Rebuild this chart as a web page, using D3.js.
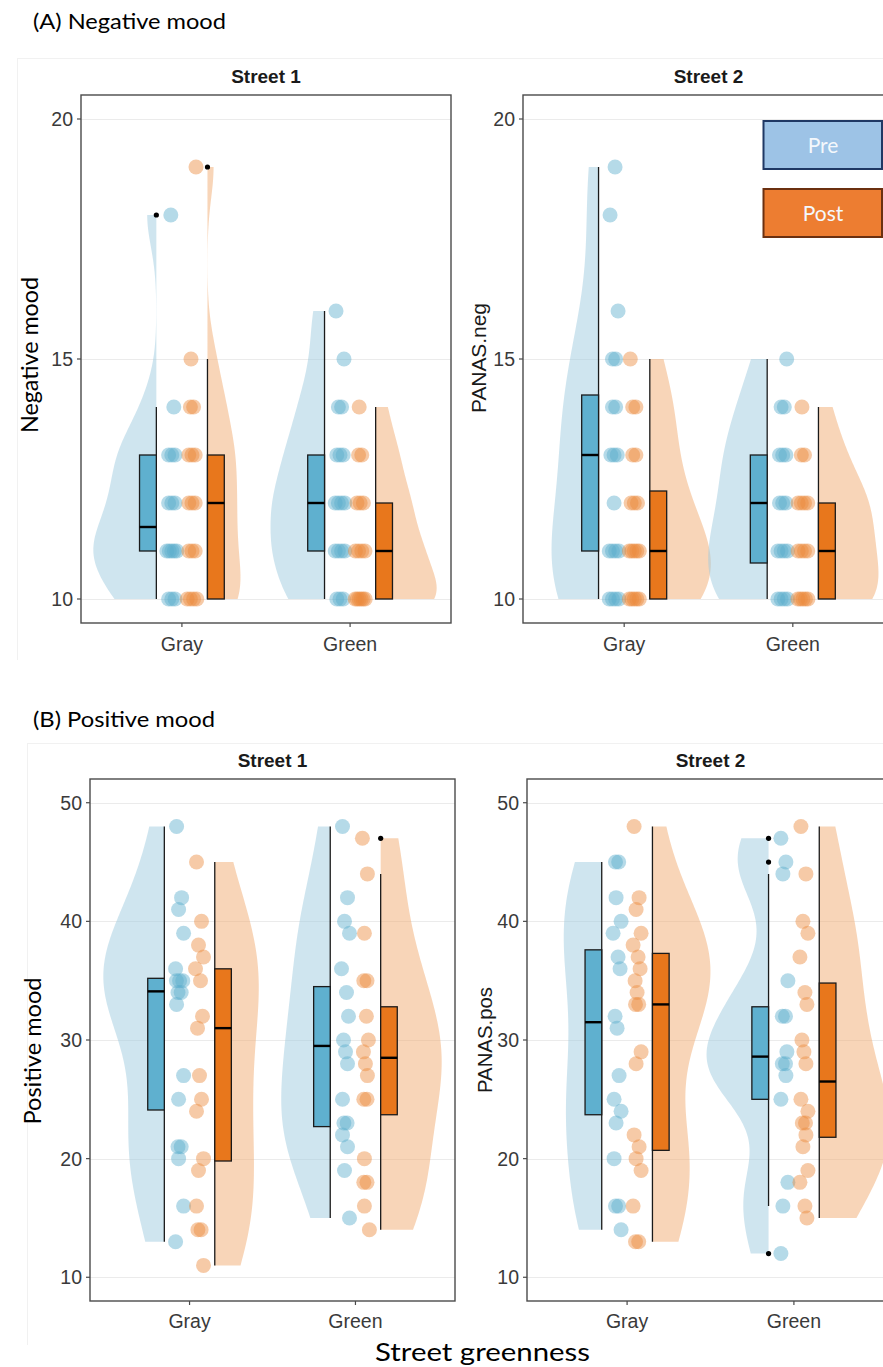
<!DOCTYPE html>
<html><head><meta charset="utf-8">
<script src="https://cdn.jsdelivr.net/npm/d3@7"></script>
<style>body{margin:0;background:#fff}svg{display:block}</style>
</head><body>
<svg id="chart" width="883" height="1367"></svg>
<script>
// ---------------- DATA ----------------
const groups = ["Gray", "Green"];
const times = ["Pre", "Post"];
const stripTitles = ["Street 1", "Street 2"];
const yTicksNeg = [10, 15, 20];
const yTicksPos = [10, 20, 30, 40, 50];

// (A) Negative mood — Street 1
const negS1GrayPre   = [10,10,10,11,11,11,11,11,12,12,12,13,13,13,14,18];
const negS1GrayPost  = [10,10,10,10,11,11,11,12,12,12,13,13,13,14,14,15,19];
const negS1GreenPre  = [10,10,10,11,11,11,11,12,12,12,12,13,13,13,14,14,15,16];
const negS1GreenPost = [10,10,10,10,10,10,11,11,11,11,12,12,12,13,13,14];
// box stats: [lower whisker, Q1, median, Q3, upper whisker]
const negS1GrayPreBox   = [10, 11, 11.5, 13, 14];
const negS1GrayPostBox  = [10, 10, 12, 13, 15];
const negS1GreenPreBox  = [10, 11, 12, 13, 16];
const negS1GreenPostBox = [10, 10, 11, 12, 14];
const negS1GrayPreOut = [18], negS1GrayPostOut = [19], negS1GreenPreOut = [], negS1GreenPostOut = [];

// (A) Negative mood — Street 2
const negS2GrayPre   = [10,10,10,10,11,11,11,11,12,13,13,13,14,14,15,15,16,18,19];
const negS2GrayPost  = [10,10,10,10,10,11,11,11,11,11,12,12,12,13,13,14,14,15];
const negS2GreenPre  = [10,10,10,10,11,11,11,11,12,12,12,13,13,13,14,14,15];
const negS2GreenPost = [10,10,10,10,10,11,11,11,11,12,12,12,12,13,13,14];
const negS2GrayPreBox   = [10, 11, 13, 14.25, 19];
const negS2GrayPostBox  = [10, 10, 11, 12.25, 15];
const negS2GreenPreBox  = [10, 10.75, 12, 13, 15];
const negS2GreenPostBox = [10, 10, 11, 12, 14];
const negS2GrayPreOut = [], negS2GrayPostOut = [], negS2GreenPreOut = [], negS2GreenPostOut = [];

// (B) Positive mood — Street 1
const posS1GrayPre   = [48,42,41,39,36,35,35,35,34,34,33,27,25,21,21,20,16,13];
const posS1GrayPost  = [45,40,38,37,36,35,32,31,27,25,24,20,19,16,14,14,11];
const posS1GreenPre  = [48,42,40,39,36,34,32,30,29,28,25,23,23,22,21,19,15];
const posS1GreenPost = [47,44,39,35,35,32,30,29,28,27,25,25,20,18,18,16,14];
const posS1GrayPreBox   = [13, 24.1, 34.1, 35.2, 48];
const posS1GrayPostBox  = [11, 19.8, 31, 36, 45];
const posS1GreenPreBox  = [15, 22.7, 29.5, 34.5, 48];
const posS1GreenPostBox = [14, 23.7, 28.5, 32.8, 44];
const posS1GrayPreOut = [], posS1GrayPostOut = [], posS1GreenPreOut = [], posS1GreenPostOut = [47];

// (B) Positive mood — Street 2
const posS2GrayPre   = [45,45,42,40,39,37,36,32,31,27,25,24,23,20,16,16,14];
const posS2GrayPost  = [48,42,41,39,38,37,36,35,34,33,33,29,28,22,21,20,19,16,13,13];
const posS2GreenPre  = [47,45,44,35,32,32,29,28,28,27,25,18,16,12];
const posS2GreenPost = [48,44,40,39,37,34,33,30,29,28,25,24,23,23,22,21,19,18,16,15];
const posS2GrayPreBox   = [14, 23.7, 31.5, 37.6, 45];
const posS2GrayPostBox  = [13, 20.7, 33, 37.3, 48];
const posS2GreenPreBox  = [16, 25, 28.6, 32.8, 44];
const posS2GreenPostBox = [15, 21.8, 26.5, 34.8, 48];
const posS2GrayPreOut = [], posS2GrayPostOut = [], posS2GreenPreOut = [47, 45, 12], posS2GreenPostOut = [];

// ---------------- STYLE / LAYOUT ----------------
const C = {
  preViolin: "#9fcbdf", postViolin: "#f1ab71", violinOpacity: 0.5,
  prePoint: "#5aaccd", postPoint: "#ec8a3c", pointOpacity: 0.45,
  preBox: "#5fb0cf", postBox: "#e8771c"
};
const panels = [
  { left: 81,  top: 95,  right: 451, bottom: 623, yDomain: [9.5, 20.5], ticks: yTicksNeg, strip: stripTitles[0], stripY: 83, xLabY: 651,
    series: [[negS1GrayPre, negS1GrayPreBox, negS1GrayPreOut], [negS1GrayPost, negS1GrayPostBox, negS1GrayPostOut],
             [negS1GreenPre, negS1GreenPreBox, negS1GreenPreOut], [negS1GreenPost, negS1GreenPostBox, negS1GreenPostOut]],
    vw: [63, 33, 54, 61], adj: 0.85 },
  { left: 523, top: 95,  right: 894, bottom: 623, yDomain: [9.5, 20.5], ticks: yTicksNeg, strip: stripTitles[1], stripY: 83, xLabY: 651,
    series: [[negS2GrayPre, negS2GrayPreBox, negS2GrayPreOut], [negS2GrayPost, negS2GrayPostBox, negS2GrayPostOut],
             [negS2GreenPre, negS2GreenPreBox, negS2GreenPreOut], [negS2GreenPost, negS2GreenPostBox, negS2GreenPostOut]],
    vw: [47, 61, 59, 60], adj: 1 },
  { left: 90,  top: 779, right: 455, bottom: 1301, yDomain: [8, 52], ticks: yTicksPos, strip: stripTitles[0], stripY: 767, xLabY: 1328,
    series: [[posS1GrayPre, posS1GrayPreBox, posS1GrayPreOut], [posS1GrayPost, posS1GrayPostBox, posS1GrayPostOut],
             [posS1GreenPre, posS1GreenPreBox, posS1GreenPreOut], [posS1GreenPost, posS1GreenPostBox, posS1GreenPostOut]],
    vw: [61, 44, 49, 61], adj: 1 },
  { left: 527, top: 779, right: 894, bottom: 1301, yDomain: [8, 52], ticks: yTicksPos, strip: stripTitles[1], stripY: 767, xLabY: 1328,
    series: [[posS2GrayPre, posS2GrayPreBox, posS2GrayPreOut], [posS2GrayPost, posS2GrayPostBox, posS2GrayPostOut],
             [posS2GreenPre, posS2GreenPreBox, posS2GreenPreOut], [posS2GreenPost, posS2GreenPostBox, posS2GreenPostOut]],
    vw: [38, 58, 62, 70], adj: 0.9 }
];

const WHISK = 0.152, BOXW = 0.1, PTOFF = 0.06;

// ---------------- HELPERS ----------------
function bwNrd0(v) {
  const s = d3.sort(v);
  const sd = d3.deviation(s);
  const iqr = (d3.quantile(s, 0.75) - d3.quantile(s, 0.25)) / 1.34;
  let lo = Math.min(sd, iqr);
  if (!(lo > 0)) lo = sd || Math.abs(s[0]) || 1;
  return 0.9 * lo * Math.pow(s.length, -0.2);
}
function kde(v, adj) {
  const bw = bwNrd0(v) * adj;
  const [mn, mx] = d3.extent(v);
  const n = 160;
  return d3.range(n + 1).map(i => {
    const t = mn + (mx - mn) * i / n;
    const d = d3.sum(v, xi => Math.exp(-0.5 * ((t - xi) / bw) ** 2)) / (v.length * bw * Math.sqrt(2 * Math.PI));
    return [t, d];
  });
}
function jitter(vals) {
  const pattern = [-3, 2, -1, 4, -4, 1, 3, -2, 0, 2, -3, 4, -1];
  const counts = {}, seen = {};
  vals.forEach(v => counts[v] = (counts[v] || 0) + 1);
  return vals.map((v, i) => {
    const k = counts[v];
    const j = seen[v] = (seen[v] === undefined ? 0 : seen[v] + 1);
    if (k > 1) { const sp = Math.min(3.2, 10 / (k - 1)); return (j - (k - 1) / 2) * sp; }
    return pattern[i % pattern.length];
  });
}

const svg = d3.select("#chart");
svg.append("rect").attr("width", 883).attr("height", 1367).attr("fill", "#fff");

// faint borders of the pasted figure parts
const faint = svg.append("g").attr("stroke", "#f1f1f1").attr("stroke-width", 1);
faint.append("line").attr("x1", 17).attr("x2", 883).attr("y1", 58.5).attr("y2", 58.5);
faint.append("line").attr("x1", 17.5).attr("x2", 17.5).attr("y1", 58).attr("y2", 660);
faint.append("line").attr("x1", 27).attr("x2", 883).attr("y1", 743.5).attr("y2", 743.5);
faint.append("line").attr("x1", 27.5).attr("x2", 27.5).attr("y1", 743).attr("y2", 1345);

panels.forEach((p, pi) => {
  const g = svg.append("g");
  const x = d3.scaleLinear().domain([0.4, 2.6]).range([p.left, p.right]);
  const y = d3.scaleLinear().domain(p.yDomain).range([p.bottom, p.top]);
  const ppu = x(1) - x(0);
  const clipId = "clip" + pi;
  svg.append("clipPath").attr("id", clipId).append("rect")
    .attr("x", p.left).attr("y", p.top).attr("width", p.right - p.left).attr("height", p.bottom - p.top);
  const inner = g.append("g").attr("clip-path", `url(#${clipId})`);

  // grid
  inner.selectAll(".grid").data(p.ticks).join("line")
    .attr("x1", p.left).attr("x2", p.right)
    .attr("y1", d => Math.round(y(d)) + 0.5).attr("y2", d => Math.round(y(d)) + 0.5)
    .attr("stroke", "#ebebeb").attr("stroke-width", 1);

  const specs = p.series.map((s, si) => {
    const gi = Math.floor(si / 2), ti = si % 2;
    const pos = gi + 1, dir = ti === 0 ? -1 : 1;
    return { vals: s[0], box: s[1], out: s[2], pos, dir, ti, vw: p.vw[si] };
  });

  // violins
  specs.forEach(s => {
    const dens = kde(s.vals, p.adj);
    const maxD = d3.max(dens, d => d[1]);
    const xw = s.pos + s.dir * WHISK;
    const wUnits = s.vw / ppu;
    const area = d3.area()
      .y(d => y(d[0]))
      .x0(x(xw))
      .x1(d => x(xw + s.dir * wUnits * d[1] / maxD))
      .curve(d3.curveLinear);
    inner.append("path").datum(dens).attr("d", area)
      .attr("fill", s.ti === 0 ? C.preViolin : C.postViolin)
      .attr("fill-opacity", C.violinOpacity);
  });

  // points
  specs.forEach(s => {
    const jit = jitter(s.vals);
    const cx0 = s.pos + s.dir * PTOFF;
    inner.append("g").selectAll("circle").data(s.vals).join("circle")
      .attr("cx", (d, i) => x(cx0) + jit[i])
      .attr("cy", d => y(d))
      .attr("r", 7.5)
      .attr("fill", s.ti === 0 ? C.prePoint : C.postPoint)
      .attr("fill-opacity", C.pointOpacity);
  });

  // boxplots
  specs.forEach(s => {
    const xw = s.pos + s.dir * WHISK;
    const xo = s.pos + s.dir * (WHISK + BOXW);
    const [lw, q1, med, q3, uw] = s.box;
    const bx = Math.min(x(xw), x(xo)), bW = Math.abs(x(xo) - x(xw));
    inner.append("line").attr("x1", x(xw)).attr("x2", x(xw))
      .attr("y1", y(lw)).attr("y2", y(uw)).attr("stroke", "#1a1a1a").attr("stroke-width", 1.3);
    inner.append("rect").attr("x", bx).attr("y", y(q3)).attr("width", bW).attr("height", y(q1) - y(q3))
      .attr("fill", s.ti === 0 ? C.preBox : C.postBox).attr("stroke", "#1a1a1a").attr("stroke-width", 1.3);
    inner.append("line").attr("x1", bx).attr("x2", bx + bW)
      .attr("y1", y(med)).attr("y2", y(med)).attr("stroke", "#000").attr("stroke-width", 2.4);
    inner.append("g").selectAll("circle").data(s.out).join("circle")
      .attr("cx", x(xw)).attr("cy", d => y(d)).attr("r", 2.6).attr("fill", "#000");
  });

  // frame
  g.append("rect").attr("x", p.left).attr("y", p.top).attr("width", p.right - p.left).attr("height", p.bottom - p.top)
    .attr("fill", "none").attr("stroke", "#4a4a4a").attr("stroke-width", 1.4);

  // y axis ticks + labels
  p.ticks.forEach(t => {
    g.append("line").attr("x1", p.left - 4).attr("x2", p.left).attr("y1", y(t)).attr("y2", y(t))
      .attr("stroke", "#4a4a4a").attr("stroke-width", 1.2);
    g.append("text").attr("x", p.left - 8).attr("y", y(t)).attr("dy", "0.36em")
      .attr("text-anchor", "end").attr("font-family", "Liberation Sans, Arial, sans-serif")
      .attr("font-size", 19.5).attr("fill", "#3a3a3a").text(t);
  });
  // x axis ticks + labels
  groups.forEach((gname, gi) => {
    const xx = x(gi + 1);
    g.append("line").attr("x1", xx).attr("x2", xx).attr("y1", p.bottom).attr("y2", p.bottom + 4)
      .attr("stroke", "#4a4a4a").attr("stroke-width", 1.2);
    g.append("text").attr("x", xx).attr("y", p.xLabY).attr("text-anchor", "middle")
      .attr("font-family", "Liberation Sans, Arial, sans-serif").attr("font-size", 19.5)
      .attr("fill", "#3a3a3a").text(gname);
  });
  // strip title
  g.append("text").attr("x", (p.left + p.right) / 2).attr("y", p.stripY).attr("text-anchor", "middle")
    .attr("font-family", "Liberation Sans, Arial, sans-serif").attr("font-weight", "bold")
    .attr("font-size", 19).attr("fill", "#1a1a1a").text(p.strip);
});

// axis titles & overlay labels
function label(txt, xx, yy, opts) {
  const t = svg.append("text").attr("x", xx).attr("y", yy)
    .attr("font-family", opts.font).attr("font-size", opts.size).attr("fill", opts.fill || "#000")
    .attr("text-anchor", opts.anchor || "start").text(txt);
  if (opts.rotate) t.attr("transform", `rotate(-90 ${xx} ${yy})`);
  if (opts.len) t.attr("textLength", opts.len).attr("lengthAdjust", "spacingAndGlyphs");
  return t;
}
const LATO = "Lato, 'Open Sans', sans-serif";
const ARIAL = "'Liberation Sans', Arial, sans-serif";
label("(A) Negative mood", 33, 29, { font: LATO, size: 22, len: 193 });
label("(B) Positive mood", 33, 727, { font: LATO, size: 22, len: 182 });
label("Negative mood", 38, 355, { font: LATO, size: 23, anchor: "middle", rotate: true, len: 156 });
label("Positive mood", 41, 1051, { font: LATO, size: 23, anchor: "middle", rotate: true, len: 147 });
label("PANAS.neg", 486, 358, { font: ARIAL, size: 20.5, anchor: "middle", rotate: true, len: 110, fill: "#1a1a1a" });
label("PANAS.pos", 492, 1040, { font: ARIAL, size: 20, anchor: "middle", rotate: true, len: 106, fill: "#1a1a1a" });
label("Street greenness", 375, 1361, { font: LATO, size: 25, len: 215 });

// legend (Pre / Post)
const legend = svg.append("g");
const legendItems = [
  { name: times[0], y: 121, fill: "#9dc3e6", stroke: "#1f3864" },
  { name: times[1], y: 189, fill: "#ed7d31", stroke: "#6b3010" }
];
legendItems.forEach(it => {
  legend.append("rect").attr("x", 763.5).attr("y", it.y).attr("width", 118.5).attr("height", 48)
    .attr("fill", it.fill).attr("stroke", it.stroke).attr("stroke-width", 2);
  legend.append("text").attr("x", 823).attr("y", it.y + 32).attr("text-anchor", "middle")
    .attr("font-family", LATO).attr("font-size", 21).attr("fill", "#f4f8fc").text(it.name);
});
</script>
</body></html>
